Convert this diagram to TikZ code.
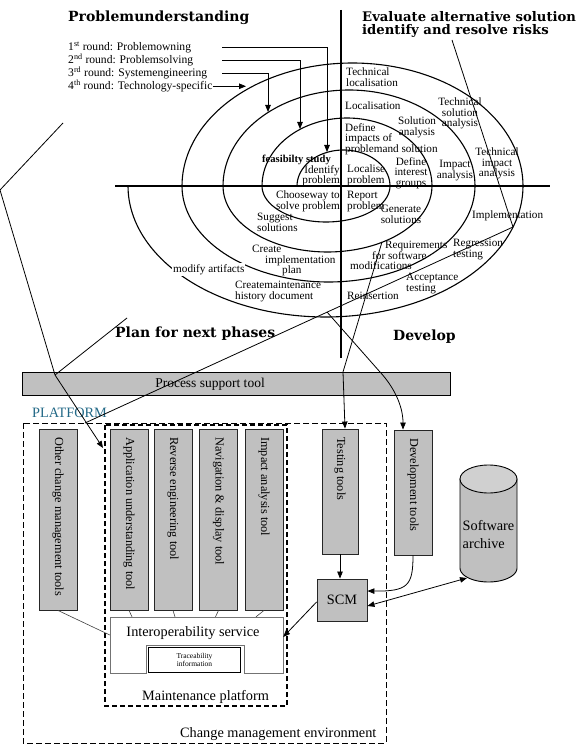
\documentclass[tikz,border=0pt]{standalone}
\usepackage{fontspec}
\setmainfont{Liberation Serif}
\newfontfamily\headfont{DejaVu Serif}
\usetikzlibrary{arrows.meta,calc}
\definecolor{boxgray}{RGB}{192,192,192}
\definecolor{platcol}{RGB}{35,105,135}
\begin{document}
\begin{tikzpicture}[x=1pt,y=-1pt,
  lbl/.style={font=\fontsize{11.2}{10.5}\selectfont, inner sep=0pt, align=left},
  lblc/.style={lbl, align=center},
  head/.style={font=\headfont\bfseries\fontsize{14}{16}\selectfont, inner sep=0pt, anchor=base west},
  headsm/.style={head, font=\headfont\bfseries\fontsize{13.2}{15}\selectfont},
  rnd/.style={font=\fontsize{11.6}{12}\selectfont, inner sep=0pt, anchor=base west},
  arr/.style={-{Triangle[length=7pt,width=5.5pt]}},
  ln/.style={line width=0.8pt},
  thinln/.style={line width=0.6pt, black!75},
  spiral/.style={line width=1.1pt},
  toolbox/.style={draw=black!85, line width=0.9pt, fill=boxgray, inner sep=0pt},
  toollbl/.style={font=\fontsize{12.3}{12}\selectfont, inner sep=0pt, rotate=-90, anchor=west},
  big/.style={font=\fontsize{14.3}{14}\selectfont, inner sep=0pt},
  outerdash/.style={line width=1pt, dash pattern=on 6pt off 3pt},
  innerdash/.style={line width=1.4pt, dash pattern=on 5pt off 3pt}
]
\useasboundingbox (0,0) rectangle (575,751);

% ---------- axes ----------
\draw[line width=1.2pt] (341,10) -- (341,358);
\draw[line width=1.2pt] (115,186) -- (550,186);

% ---------- spiral ----------
\draw[spiral]
  plot[smooth, samples=40, domain=180:0, variable=\t] ({343.5+46.5*cos(\t)}, {186-36*sin(\t)})
  -- plot[smooth, samples=40, domain=0:180, variable=\t] ({326+64*cos(\t)}, {186+36*sin(\t)})
  -- plot[smooth, samples=40, domain=180:0, variable=\t] ({347+85*cos(\t)}, {186-68*sin(\t)})
  -- plot[smooth, samples=40, domain=0:180, variable=\t] ({327.5+104.5*cos(\t)}, {186+66*sin(\t)})
  -- plot[smooth, samples=50, domain=180:0, variable=\t] ({349+126*cos(\t)}, {186-96*sin(\t)})
  -- plot[smooth, samples=50, domain=0:180, variable=\t] ({328.5+146.5*cos(\t)}, {186+96*sin(\t)})
  -- plot[smooth, samples=60, domain=180:0, variable=\t] ({352.5+170.5*cos(\t)}, {186-123*sin(\t)})
  -- plot[smooth, samples=60, domain=0:180, variable=\t] ({325.5+197.5*cos(\t)}, {186+131*sin(\t)});

% ---------- headings ----------
\node[head] (h1) at (68,22) {Problemunderstanding};
\node[headsm] (h2) at (362,22) {Evaluate alternative solution};
\node[headsm] (h3) at (362,35) {identify and resolve risks};
\node[head] (h4) at (115,337) {Plan for next phases};
\node[head] (h5) at (393,340) {Develop};

% ---------- rounds ----------
\node[rnd] (r1) at (68,51) {1\textsuperscript{st} round: Problemowning};
\node[rnd] (r2) at (68,64) {2\textsuperscript{nd} round: Problemsolving};
\node[rnd] (r3) at (68,77) {3\textsuperscript{rd} round: Systemengineering};
\node[rnd] (r4) at (68,90) {4\textsuperscript{th} round: Technology-specific};
\coordinate (s12) at (222,0);
\coordinate (s3) at (222,0);
\coordinate (t1) at (327,152);
\coordinate (t2) at (300,129);
\coordinate (t3) at (268,112);
\coordinate (t4) at (246,87);
\draw[ln,arr] (r1.east -| s12) -| (t1);
\draw[ln,arr] (r2.east -| s12) -| (t2);
\draw[ln,arr] (r3.east -| s3) -| (t3);
\draw[ln,arr] (r4.east) -- (r4.east -| t4);

% ---------- spiral labels ----------
\node[lbl, anchor=north west] (tl) at (346,68) {Technical\\localisation};
\node[lbl, anchor=north west] (loc) at (345,102) {Localisation};
\node[lblc, anchor=north] (tsa) at (460,98) {Technical\\solution\\analysis};
\node[lblc, anchor=north] (sa) at (417,117) {Solution\\analysis};
\node[lbl, anchor=north west] (dip) at (345,123) {Define\\impacts of\\problemand solution};
\node[lblc, anchor=north] (dig) at (411,157) {Define\\interest\\groups};
\node[lblc, anchor=north] (ia) at (455,160) {Impact\\analysis};
\node[lblc, anchor=north] (tia) at (497,148) {Technical\\impact\\analysis};
\node[lbl, anchor=north west] (lp) at (347,165) {Localise\\problem};
\node[lbl, align=right, anchor=north east] (ip) at (340,165) {Identify\\problem};
\node[lbl, font=\bfseries\fontsize{10.6}{10.5}\selectfont, anchor=north west] (fs) at (262,155) {feasibilty study};
\node[lbl, align=right, anchor=north east] (cw) at (340,191) {Chooseway to\\solve problem};
\node[lbl, anchor=north west] (rp) at (347,191) {Report\\problem};
\node[lbl, anchor=north west] (ss) at (257,213) {Suggest\\solutions};
\node[lblc, anchor=north] (gs) at (401,205) {Generate\\solutions};
\node[lbl, anchor=north west] (cip) at (252,245) {Create\\\hspace{13pt}implementation\\\hspace{30pt}plan};
\node[lbl, anchor=north west, fill=white, inner sep=1pt] (ma) at (172,263) {modify artifacts};
\node[lbl, anchor=north west] (cmh) at (235,281) {Createmaintenance\\history document};
\node[lbl, anchor=north west] (impl) at (472,211) {Implementation};
\node[lbl, anchor=north west] (rsm) at (350,241) {\hspace{35pt}Requirements\\\hspace{22pt}for software\\modifications};
\node[lbl, anchor=north west] (rt) at (453,239) {Regression\\testing};
\node[lbl, anchor=north west] (at) at (406,273) {Acceptance\\testing};
\node[lbl, anchor=north west] (rein) at (347,292) {Reinsertion};

% ---------- process support bar ----------
\node[draw, line width=1pt, fill=boxgray, minimum width=428pt, minimum height=23pt, inner sep=0pt] (pst) at (236,383.5) {};
\node[big, font=\fontsize{13.5}{14}\selectfont] (pstl) at (210,384) {Process support tool};

% ---------- platform ----------
\node[big, text=platcol, anchor=base west] (plat) at (32,417) {PLATFORM};
\draw[outerdash] (23,423) rectangle (386,743);
\draw[innerdash] (105,425) rectangle (287,706);
\node[big, anchor=base west] (mpl) at (142,700) {Maintenance platform};
\node[big, anchor=base west] (cme) at (180,737) {Change management environment};

% tools
\node[toolbox, minimum width=38pt, minimum height=181pt] (oth) at (58,519.5) {};
\node[toolbox, minimum width=38pt, minimum height=181pt] (app) at (129,519.5) {};
\node[toolbox, minimum width=38pt, minimum height=181pt] (rev) at (173,519.5) {};
\node[toolbox, minimum width=38pt, minimum height=181pt] (nav) at (218.5,519.5) {};
\node[toolbox, minimum width=38pt, minimum height=181pt] (imp) at (264,519.5) {};
\node[toollbl] (othl) at (58,437) {Other change management tools};
\node[toollbl] (appl) at (129,437) {Application understanding tool};
\node[toollbl] (revl) at (173,437) {Reverse engineering tool};
\node[toollbl] (navl) at (218.5,437) {Navigation \& display tool};
\node[toollbl] (impl2) at (264,437) {Impact analysis tool};

\node[toolbox, minimum width=36pt, minimum height=125pt] (test) at (340,491.5) {};
\node[toollbl] (testl) at (340,437) {Testing tools};
\node[toolbox, minimum width=38pt, minimum height=125pt] (dev) at (413,492.5) {};
\node[toollbl] (devl) at (413,438) {Development tools};
\node[toolbox, minimum width=50pt, minimum height=42pt, big] (scm) at (342,600) {SCM};

% interoperability service
\node[minimum width=173pt, minimum height=56pt, inner sep=0pt] (iop) at (196.5,645) {};
\draw[black!55, line width=1pt] (110,617) -- (283,617) -- (283,673) -- (244,673) -- (244,645) -- (146,645) -- (146,673) -- (110,673) -- cycle;
\node[big] (iopl) at (193,633) {Interoperability service};
\node[draw, line width=1.3pt, fill=white, minimum width=92pt, minimum height=25pt, align=center, font=\fontsize{7.5}{8.5}\selectfont, inner sep=0pt] (trace) at (194.5,660) {Traceability\\information};

\draw[thinln] (app.south) -- ($(app.south |- iop.north)+(3,0)$);
\draw[thinln] (rev.south) -- ($(rev.south |- iop.north)+(2,0)$);
\draw[thinln] (nav.south) -- ($(nav.south |- iop.north)+(-3,0)$);
\draw[thinln] (imp.south) -- ($(imp.south |- iop.north)+(-8,0)$);
\draw[thinln] (oth.south) -- ($(iop.west)+(0,-10)$);

% software archive
\filldraw[fill=boxgray, line width=0.9pt] (460,479) -- (460,568)
  -- plot[smooth, samples=30, domain=180:0, variable=\t] ({488.5+28.5*cos(\t)}, {568+14*sin(\t)})
  -- (517,479) -- cycle;
\filldraw[fill=boxgray!75!white, line width=0.9pt] (488.5,479) ellipse [x radius=28.5pt, y radius=14pt];
\node[big, align=left, font=\fontsize{14.3}{18}\selectfont] (arch) at (488.5,535) {Software\\archive};
\coordinate (archbl) at (467,578);

% connectors in bottom part
\draw[ln,arr] (test.south) -- (test.south |- scm.north);
\draw[ln,arr] (dev.south) .. controls ($(dev.south)+(0,30)$) and ($(dev.south)+(-5,36)$) .. ($(scm.east)+(0,-9)$);
\draw[ln,{Triangle[length=7pt,width=5.5pt]}-{Triangle[length=7pt,width=5.5pt]}] ($(scm.east)+(0,6)$) -- (archbl);
\draw[ln,arr] ($(scm.west)+(0,2)$) -- ($(iop.east)+(0,-8)$);

% ---------- long lines ----------
\coordinate (hstart) at (452,40);
\coordinate (impb) at (513,227);
\coordinate (platcorner) at (85,423);
\draw[ln] (hstart) -- (impb) -- (platcorner);
\coordinate (brk) at (327,312);
\coordinate (cb) at (380,372);
\draw[ln,arr] (brk) -- (cb) .. controls (393,386) and (403,405) .. ($(dev.north)+(-10,0)$);
\coordinate (reqs) at (382,242);
\coordinate (ab) at (343,372);
\draw[ln,arr] (reqs) -- (ab) -- ($(test.north)+(5,0)$);
\coordinate (lA) at (63,123);
\coordinate (lB) at (0,190);
\coordinate (lC) at (55,375);
\coordinate (lD) at (127,318);
\coordinate (lE) at (103,448);
\draw[ln,arr] (lA) -- (lB) -- (lC) -- (lE);
\draw[ln] (lD) -- (lC);
\end{tikzpicture}
\end{document}
